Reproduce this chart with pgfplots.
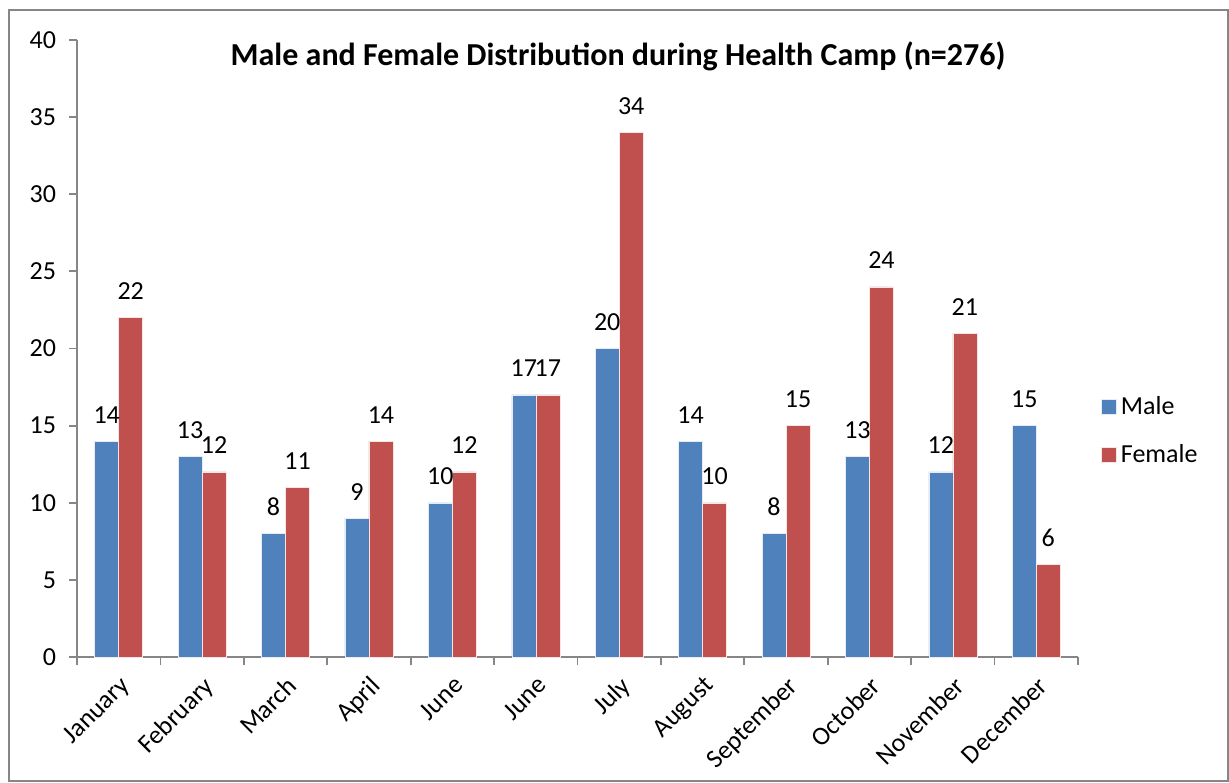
\documentclass[border=0pt]{standalone}
\usepackage{pgfplots}
\pgfplotsset{compat=1.18}
\usepackage{fontspec}
\setmainfont{Carlito}
\definecolor{mblue}{HTML}{4F81BD}
\definecolor{mred}{HTML}{C0504D}
\definecolor{axgray}{HTML}{868686}
\begin{document}
\begin{tikzpicture}
\path[use as bounding box] (-38.5pt,-62.5pt) rectangle (576pt,328.5pt);
\draw[axgray, line width=0.9pt] (-34pt,-62pt) rectangle (575.5pt,323.5pt);
\begin{axis}[
  at={(0,0)}, anchor=south west,
  scale only axis, width=500.5pt, height=308.5pt,
  ybar=0pt, bar width=12pt,
  xmin=-0.5, xmax=11.5, ymin=0, ymax=40,
  ytick={0,5,...,40},
  xtick={0,...,11},
  xticklabels={January,February,March,April,June,June,July,August,September,October,November,December},
  minor xtick={-0.5,0.5,...,11.5},
  major x tick style={draw=none},
  minor tick length=4pt,
  major tick length=4pt,
  tick align=outside,
  axis x line*=bottom, axis y line*=left,
  axis line style={axgray, line width=0.9pt},
  tick style={axgray, line width=0.9pt},
  font=\fontsize{13}{15.5}\selectfont,
  /pgf/number format/assume math mode=true,
  yticklabel style={xshift=-3pt},
  xticklabel style={rotate=45, anchor=north east, xshift=0pt, yshift=0pt},
  nodes near coords,
  nodes near coords style={font=\fontsize{13}{15.5}\selectfont, color=black, yshift=5.5pt},
  title={\textbf{Male and Female Distribution during Health Camp (n=276)}},
  title style={at={(0.5405,0.9546)}, anchor=center, font=\fontsize{16}{19}\selectfont},
  legend style={draw=none, at={(1.017,0.366)}, anchor=west, font=\fontsize{13}{15.5}\selectfont, row sep=9.5pt},
  legend cell align=left,
  legend image code/.code={\fill[#1] (0pt,-3.75pt) rectangle (7.5pt,3.75pt);},
]
\addplot[fill=mblue, draw=white!85!mblue, line width=0.25pt] coordinates {(0,14) (1,13) (2,8) (3,9) (4,10) (5,17) (6,20) (7,14) (8,8) (9,13) (10,12) (11,15)};
\addplot[fill=mred, draw=white!85!mred, line width=0.25pt] coordinates {(0,22) (1,12) (2,11) (3,14) (4,12) (5,17) (6,34) (7,10) (8,15) (9,24) (10,21) (11,6)};
\legend{Male,Female}
\end{axis}
\end{tikzpicture}
\end{document}
